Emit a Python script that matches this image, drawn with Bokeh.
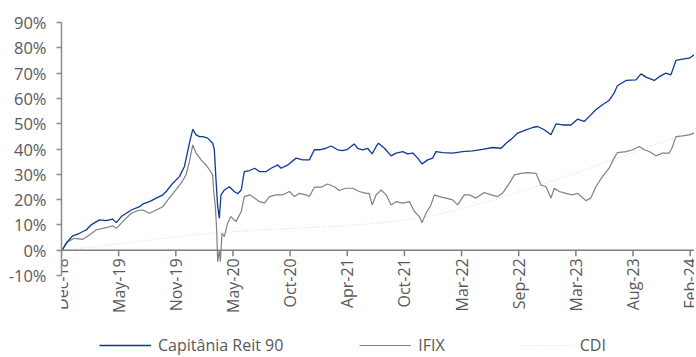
import math
import pandas as pd
from bokeh.plotting import figure
from bokeh.models import (Range1d, FixedTicker, PrintfTickFormatter, Legend, LegendItem,
                          Span, ColumnDataSource)
from bokeh.core.properties import value
from bokeh.embed import file_html
from bokeh.resources import INLINE

# ---------------- data ----------------
cap_dates = ["2018-12-12","2018-12-24","2019-01-13","2019-02-02","2019-02-22","2019-03-09","2019-04-03","2019-04-23","2019-05-13","2019-05-24",
             "2019-06-08","2019-06-23","2019-07-08","2019-08-02","2019-08-12","2019-09-01","2019-09-21","2019-10-11","2019-10-21","2019-11-10",
             "2019-11-30","2019-12-15","2019-12-30","2020-01-09","2020-01-19","2020-01-29","2020-02-08","2020-02-23","2020-02-28","2020-03-09",
             "2020-03-14","2020-03-19","2020-03-24","2020-03-29","2020-04-03","2020-04-13","2020-04-28","2020-05-13","2020-05-23","2020-06-03",
             "2020-06-12","2020-06-28","2020-07-13","2020-07-28","2020-08-17","2020-09-01","2020-09-21","2020-10-01","2020-10-21","2020-11-15",
             "2020-12-05","2020-12-25","2021-01-09","2021-01-24","2021-02-13","2021-02-28","2021-03-20","2021-04-04","2021-04-19","2021-05-09",
             "2021-05-19","2021-06-03","2021-06-18","2021-07-02","2021-07-14","2021-07-21","2021-08-08","2021-08-28","2021-09-12","2021-10-02",
             "2021-10-17","2021-11-01","2021-11-16","2021-11-29","2021-12-16","2021-12-31","2022-01-10","2022-01-30","2022-03-01","2022-03-31",
             "2022-04-30","2022-05-30","2022-06-29","2022-07-25","2022-08-09","2022-08-28","2022-09-13","2022-10-08","2022-10-28","2022-11-12",
             "2022-12-02","2022-12-22","2023-01-06","2023-01-26","2023-02-20","2023-03-12","2023-04-01","2023-04-16","2023-05-06","2023-05-26",
             "2023-06-15","2023-06-30","2023-07-10","2023-08-05","2023-09-04","2023-09-19","2023-10-04","2023-10-29","2023-11-13","2023-12-03",
             "2023-12-18","2024-01-02","2024-01-22","2024-02-11","2024-02-26"]
cap_values = [0.0, 2.8, 5.7, 6.7, 8.0, 10.0, 12.0, 11.7, 12.3, 10.9,
              13.3, 14.6, 15.9, 17.2, 18.3, 19.2, 20.6, 21.9, 23.2, 26.5,
              29.1, 33.1, 42.3, 47.8, 45.6, 44.9, 44.9, 44.3, 43.6, 42.3,
              39.7, 27.8, 17.2, 12.7, 21.9, 23.8, 25.1, 23.2, 22.3, 23.8,
              31.1, 31.5, 32.4, 31.1, 31.1, 32.4, 33.7, 32.4, 33.7, 36.4,
              35.7, 35.7, 39.7, 39.7, 40.3, 41.2, 39.7, 39.4, 39.9, 42.0,
              40.3, 39.7, 40.3, 38.1, 41.0, 42.3, 40.3, 37.3, 38.4, 39.0,
              38.1, 38.4, 36.4, 34.1, 35.7, 36.4, 39.0, 38.6, 38.4, 39.0,
              39.3, 39.9, 40.6, 40.3, 42.3, 44.3, 46.3, 47.6, 48.5, 48.9,
              47.6, 45.6, 49.9, 49.5, 49.5, 51.8, 50.9, 52.8, 55.5, 57.5,
              59.2, 62.1, 65.0, 67.1, 67.3, 69.7, 68.4, 67.1, 68.6, 70.0,
              69.3, 75.0, 75.5, 75.9, 77.2]

ifix_dates = ["2018-12-12","2018-12-29","2019-01-18","2019-02-12","2019-03-04","2019-03-24","2019-04-23","2019-05-13","2019-05-25","2019-06-12",
              "2019-07-08","2019-07-28","2019-08-12","2019-09-01","2019-09-21","2019-10-11","2019-10-26","2019-11-15","2019-12-05","2019-12-20",
              "2019-12-30","2020-01-09","2020-01-19","2020-02-03","2020-02-18","2020-02-28","2020-03-09","2020-03-11","2020-03-17","2020-03-21",
              "2020-03-24","2020-03-29","2020-04-01","2020-04-06","2020-04-13","2020-04-23","2020-05-03","2020-05-18","2020-06-03","2020-06-12",
              "2020-06-28","2020-07-13","2020-07-28","2020-08-12","2020-08-27","2020-09-16","2020-10-06","2020-10-26","2020-11-10","2020-11-25",
              "2020-12-15","2020-12-25","2021-01-09","2021-01-29","2021-02-18","2021-03-10","2021-03-25","2021-04-14","2021-05-04","2021-05-24",
              "2021-06-14","2021-06-23","2021-07-02","2021-07-14","2021-07-29","2021-08-13","2021-08-28","2021-09-12","2021-10-02","2021-10-22",
              "2021-11-06","2021-11-21","2021-11-29","2021-12-11","2021-12-26","2022-01-05","2022-01-20","2022-02-09","2022-03-01","2022-03-16",
              "2022-04-05","2022-04-20","2022-05-10","2022-06-04","2022-06-25","2022-07-14","2022-07-29","2022-08-19","2022-09-03","2022-09-23",
              "2022-10-13","2022-11-07","2022-11-22","2022-12-07","2022-12-22","2023-01-01","2023-01-16","2023-02-05","2023-02-25","2023-03-12",
              "2023-04-06","2023-04-21","2023-05-06","2023-05-26","2023-06-15","2023-06-30","2023-07-10","2023-08-05","2023-08-25","2023-09-14",
              "2023-09-29","2023-10-14","2023-11-03","2023-11-23","2023-12-13","2023-12-21","2024-01-02","2024-01-22","2024-02-11","2024-02-26"]
ifix_values = [0.0, 3.4, 4.7, 4.3, 6.0, 8.0, 8.9, 9.6, 8.7, 11.3,
               14.6, 15.7, 15.9, 14.6, 15.9, 17.2, 19.9, 23.2, 26.5, 29.8,
               35.0, 41.6, 38.4, 35.7, 33.7, 31.8, 29.8, 25.1, 17.2, 8.0,
               -4.5, 0.1, -4.5, 6.7, 5.4, 10.7, 13.3, 11.3, 15.3, 21.2,
               21.9, 20.6, 19.2, 18.6, 21.2, 21.9, 21.9, 23.2, 21.2, 22.5,
               21.9, 21.2, 24.9, 24.9, 26.2, 25.1, 23.6, 24.5, 24.5, 23.2,
               22.5, 22.5, 17.9, 21.9, 23.8, 21.9, 17.9, 19.2, 18.6, 19.2,
               15.3, 13.3, 10.9, 14.6, 17.9, 21.9, 21.2, 20.6, 19.9, 17.9,
               21.9, 21.9, 20.6, 22.8, 21.9, 21.2, 22.5, 26.5, 29.8, 30.4,
               30.7, 30.4, 25.8, 25.1, 20.6, 24.5, 23.2, 22.5, 21.9, 22.5,
               19.6, 20.6, 25.1, 29.1, 32.4, 36.4, 38.6, 39.0, 39.7, 41.0,
               39.7, 39.0, 37.3, 38.4, 38.4, 40.3, 44.9, 45.2, 45.6, 46.3]

cdi_dates = ["2018-12-12","2019-03-31","2019-06-30","2019-09-30","2019-12-31","2020-03-31","2020-06-30","2020-09-30",
             "2020-12-31","2021-03-31","2021-06-30","2021-09-30","2021-12-31","2022-03-31","2022-06-30","2022-09-30",
             "2022-12-31","2023-03-31","2023-06-30","2023-09-30","2023-12-31","2024-02-26"]
cdi_values = [0.0, 1.5, 3.0, 4.5, 5.9, 7.0, 7.8, 8.4,
              9.0, 9.6, 10.5, 11.8, 13.7, 16.5, 19.8, 23.6,
              27.6, 31.7, 35.9, 40.3, 44.4, 46.6]

x_tick_dates = ["2018-12-10","2019-05-31","2019-11-19","2020-05-09","2020-10-28","2021-04-18",
                "2021-10-07","2022-03-28","2022-09-16","2023-03-07","2023-08-26","2024-02-14"]
x_tick_labels = ["Dec-18","May-19","Nov-19","May-20","Oct-20","Apr-21",
                 "Oct-21","Mar-22","Sep-22","Mar-23","Aug-23","Feb-24"]
y_ticks = [-10, 0, 10, 20, 30, 40, 50, 60, 70, 80, 90]
x_start, x_end = "2018-12-10", "2024-02-27"

series_names = ["Capitânia Reit 90", "IFIX", "CDI"]


def ms(dates):
    """ISO date strings -> milliseconds since epoch (what Bokeh uses for datetimes)."""
    return [float(v) for v in (pd.to_datetime(dates).astype("int64") // 10**6)]


# ---------------- figure ----------------
FONT = "Open Sans"
TXT = "#595959"
AXIS = "#7f7f7f"

# the frame reaches down to the page bottom: below 0% it holds the date labels and the legend
Y_LO, Y_HI = -42, 90
FRAME_W, FRAME_H = 633, 334

p = figure(frame_width=FRAME_W, frame_height=FRAME_H, output_backend="svg", toolbar_location=None,
           x_range=Range1d(ms([x_start])[0], ms([x_end])[0]),
           y_range=Range1d(Y_LO, Y_HI),
           min_border_left=61, min_border_right=0, min_border_top=22, min_border_bottom=0)
p.outline_line_color = None
p.grid.visible = False
# the date axis is drawn by hand on the 0% line, so drop the default bottom axis
p.below = [r for r in p.below if r not in list(p.xaxis)]
p.xaxis.visible = False

r_cdi = p.line(ms(cdi_dates), cdi_values, line_color="#d4d4d4", line_width=1, line_dash="1 2")
r_ifix = p.line(ms(ifix_dates), ifix_values, line_color="#808080", line_width=1.2)
r_cap = p.line(ms(cap_dates), cap_values, line_color="#0b3b8f", line_width=1.3)

# y axis
yaxis = p.yaxis[0]
yaxis.ticker = FixedTicker(ticks=y_ticks)
yaxis.formatter = PrintfTickFormatter(format="%d%%")
yaxis.bounds = (min(y_ticks), max(y_ticks))
yaxis.axis_line_color = "#8c8c8c"
yaxis.axis_line_width = 1.5
yaxis.major_tick_line_color = "#8c8c8c"
yaxis.major_tick_line_width = 1.5
yaxis.major_tick_in = 0
yaxis.major_tick_out = 5
yaxis.minor_tick_line_color = None
yaxis.major_label_text_font = FONT
yaxis.major_label_text_font_size = "16.5px"
yaxis.major_label_text_color = TXT
yaxis.major_label_standoff = 10

# date axis drawn on the 0% line
p.add_layout(Span(location=0, dimension="width", line_color=AXIS, line_width=1.5))
tick_len = 6 * (Y_HI - Y_LO) / FRAME_H
tsrc = ColumnDataSource(dict(x=ms(x_tick_dates), lab=x_tick_labels))
p.segment(x0="x", y0=0, x1="x", y1=-tick_len, source=tsrc, line_color=AXIS, line_width=1.5)
p.text(x="x", y=0, text="lab", source=tsrc, angle=math.pi / 2, y_offset=8,
       text_align="right", text_baseline="middle", text_font=value(FONT),
       text_font_size="16px", text_color=TXT)

legend = Legend(items=[LegendItem(label=series_names[0], renderers=[r_cap]),
                       LegendItem(label=series_names[1], renderers=[r_ifix]),
                       LegendItem(label=series_names[2], renderers=[r_cdi])],
                orientation="horizontal", location=(38, 0),
                border_line_color=None, background_fill_alpha=0,
                glyph_width=52, glyph_height=14, label_height=18, label_standoff=7, spacing=76,
                padding=0, margin=0,
                label_text_font=FONT, label_text_font_size="16px", label_text_color=TXT)
p.add_layout(legend)

open("out.html", "w").write(file_html(p, INLINE))
